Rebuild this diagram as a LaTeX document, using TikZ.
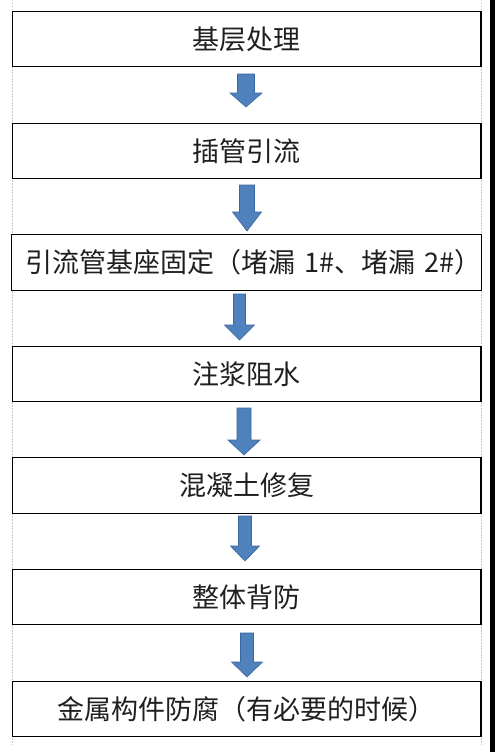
\documentclass[tikz,border=0pt]{standalone}
\usepackage{fontspec}
\newfontfamily\cjk{Noto Sans CJK SC}
\definecolor{arrowfill}{HTML}{4F81BD}
\definecolor{arrowline}{HTML}{3A679F}
\definecolor{gridgray}{HTML}{C8C8C8}
\tikzset{
  stepbox/.style={draw=black, line width=1.2pt, fill=white, minimum width=468.5pt,
    minimum height=55.5pt, inner sep=0pt, font=\cjk\fontsize{27}{27}\selectfont, text=black!88},
  blockarrow/.style={fill=arrowfill, draw=arrowline, line width=0.6pt, line join=miter},
  gridline/.style={draw=gridgray, line width=0.6pt, dash pattern=on 1.5pt off 1.5pt}
}
% #1 centre x, #2 top, #3 head start, #4 tip, #5 shaft half width, #6 head half width
\newcommand\downblock[6]{%
  \path[blockarrow] (#1-#5,#2) -- (#1+#5,#2) -- (#1+#5,#3) -- (#1+#6,#3) -- (#1,#4)
    -- (#1-#6,#3) -- (#1-#5,#3) -- cycle;}
\begin{document}
\begin{tikzpicture}[x=1pt,y=-1pt]
\useasboundingbox (0,0) rectangle (496,752);
\fill[white] (0,0) rectangle (496,752);
% faint table grid
\draw[gridline] (12.5,0) -- (12.5,745);
\draw[gridline] (481,0) -- (481,745);
% right black bar
\fill[black] (490,0) rectangle (494.5,752);
% steps
\node[stepbox] (b1) at (246.75,39) {基层处理};
\node[stepbox] (b2) at (246.75,151) {插管引流};
\node[stepbox] (b3) at (246.75,262.5) {\hspace*{14pt}引流管基座固定（堵漏\hspace{3pt} 1\#、堵漏\hspace{3pt} 2\#）};
\node[stepbox] (b4) at (246.75,374) {注浆阻水};
\node[stepbox] (b5) at (246.75,485.5) {混凝土修复};
\node[stepbox] (b6) at (246.75,597) {整体背防};
\node[stepbox] (b7) at (246.75,709) {金属构件防腐（有必要的时候）};
% block arrows between the steps
\downblock{246}{74}{93}{107}{8.5}{16}
\downblock{247}{185}{212}{231}{7.5}{14.5}
\downblock{239.5}{294}{325}{340}{6}{15}
\downblock{244}{408}{440}{455}{7}{16}
\downblock{245}{516}{546}{561}{6.5}{14.5}
\downblock{247}{633}{662}{677}{6.5}{15.5}
\end{tikzpicture}
\end{document}
